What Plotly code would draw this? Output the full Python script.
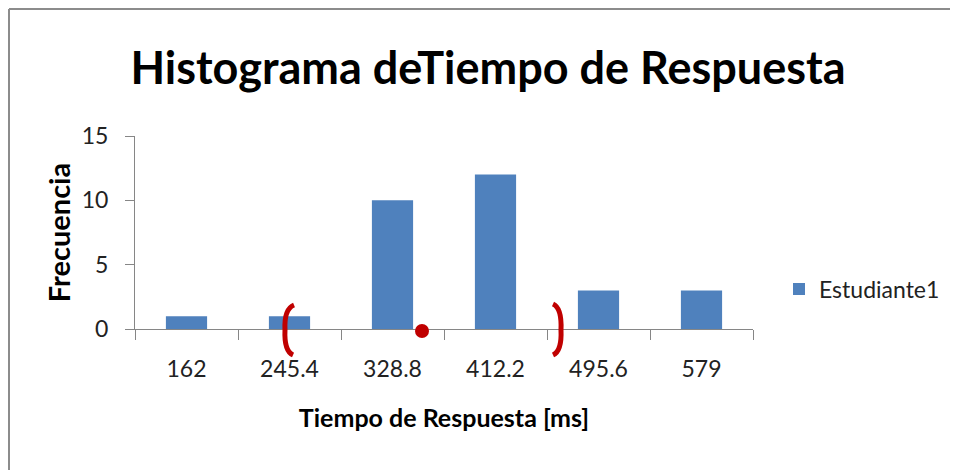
import plotly.graph_objects as go

categories = ["162", "245.4", "328.8", "412.2", "495.6", "579"]
frequencies = [1, 1, 10, 12, 3, 3]
series_name = "Estudiante1"
y_ticks = [0, 5, 10, 15]

OFF = 8  # page body margin
W, H = 958 - OFF, 470 - OFF
L, R, T, B = 135 - OFF, 753 - OFF, 136 - OFF, 329 - OFF  # plot area in figure px


def px(x, y):
    """Screen px (reference coords) -> paper coords."""
    x -= OFF
    y -= OFF
    return (x - L) / (R - L), (B - y) / (B - T)


def path(points):
    out = []
    for cmd, pts in points:
        coords = []
        for (x, y) in pts:
            a, b = px(x, y)
            coords.append(f"{a:.4f},{b:.4f}")
        out.append(cmd + " " + " ".join(coords))
    return " ".join(out)


font_family = "Lato, 'Open Sans', sans-serif"
red = "#C00000"

fig = go.Figure()
fig.add_trace(go.Bar(x=categories, y=frequencies, name=series_name,
                     marker=dict(color="#4F81BD", line=dict(width=0)),
                     showlegend=True))

shapes = []
shapes.append(dict(type="path", xref="paper", yref="paper",
                   path=path([("M", [(294, 305)]), ("Q", [(284, 309), (285, 330)]),
                              ("Q", [(284, 351), (293, 355)])]),
                   line=dict(color=red, width=5)))
shapes.append(dict(type="path", xref="paper", yref="paper",
                   path=path([("M", [(553, 304)]), ("Q", [(562, 308), (561, 330)]),
                              ("Q", [(562, 351), (553, 355)])]),
                   line=dict(color=red, width=5)))
x0, y0 = px(415, 324)
x1, y1 = px(429, 338)
shapes.append(dict(type="circle", xref="paper", yref="paper", x0=x0, y0=y1, x1=x1, y1=y0,
                   fillcolor=red, line=dict(color=red, width=0)))
# Outer border (top and left), at the figure edge
a0, b0 = px(OFF + 1, OFF + 1)
a1, b1 = px(980, 490)
shapes.append(dict(type="line", xref="paper", yref="paper", x0=a0, y0=b0, x1=a1, y1=b0,
                   line=dict(color="#8C8C8C", width=2)))
shapes.append(dict(type="line", xref="paper", yref="paper", x0=a0, y0=b0, x1=a0, y1=b1,
                   line=dict(color="#8C8C8C", width=2)))

fig.update_layout(
    width=W, height=H,
    margin=dict(l=L, r=W - R, t=T, b=H - B),
    paper_bgcolor="white", plot_bgcolor="white",
    bargap=0.6,
    font=dict(family=font_family, color="#222222"),
    title=dict(text="<b>Histograma deTiempo de Respuesta</b>",
               font=dict(size=45, color="#000000", family=font_family),
               x=(488 - OFF) / W, xanchor="center", xref="container",
               y=1 - (68 - OFF) / H, yanchor="middle", yref="container"),
    xaxis=dict(type="category", showline=True, linecolor="#868686", linewidth=1,
               ticks="outside", tickson="boundaries", ticklen=10, tickcolor="#868686",
               showgrid=False, tickfont=dict(size=23, color="#222222"),
               ticklabelstandoff=19,
               title=dict(text="<b>Tiempo de Respuesta [ms]</b>", font=dict(size=25, color="#000000"),
                          standoff=28)),
    yaxis=dict(range=[0, 15], tickvals=y_ticks, showline=True, linecolor="#868686", linewidth=1,
               ticks="outside", ticklen=9, tickcolor="#868686", showgrid=False, zeroline=False,
               tickfont=dict(size=23, color="#222222"), ticklabelstandoff=12,
               title=dict(text="<b>Frecuencia</b>", font=dict(size=29, color="#000000"),
                          standoff=2)),
    legend=dict(xref="container", yref="container",
                x=(779 - OFF) / W, y=1 - (289 - OFF) / H, xanchor="left", yanchor="middle",
                font=dict(size=23, color="#222222"), itemwidth=30),
    shapes=shapes,
)

fig.write_html("out.html")
